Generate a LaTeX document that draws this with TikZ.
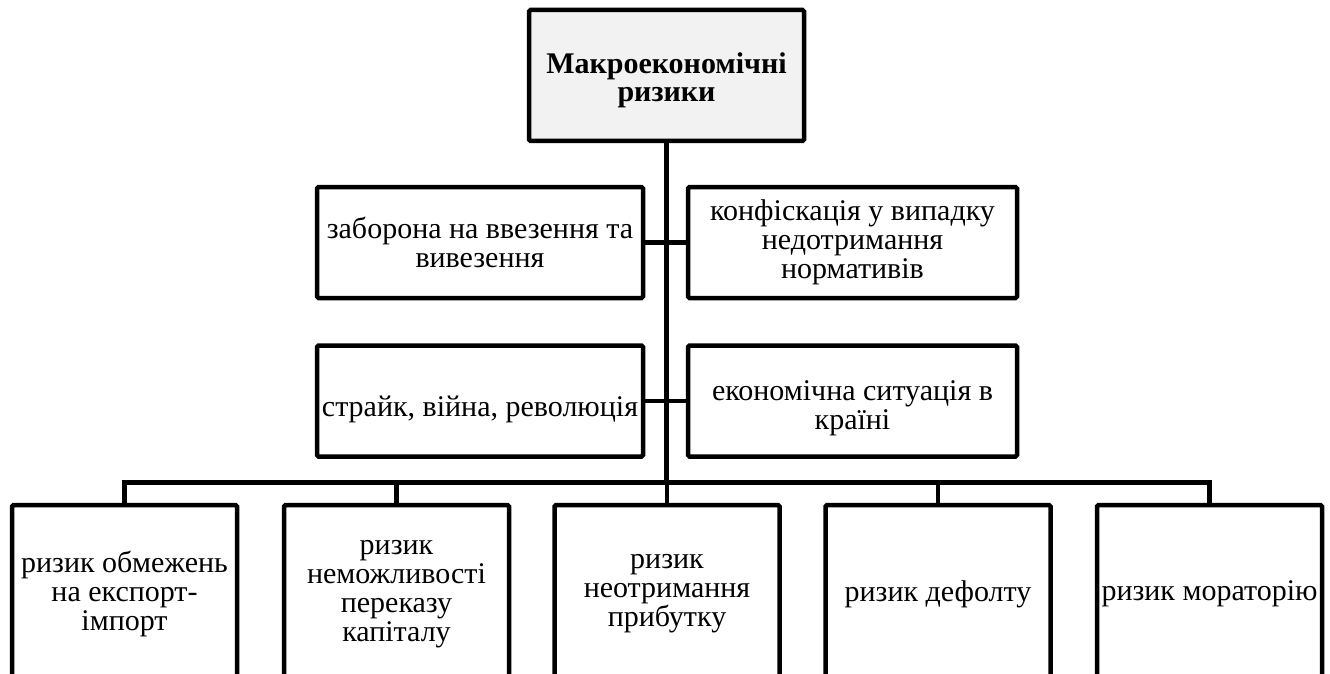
\documentclass[tikz,border=0pt]{standalone}
\usepackage{fontspec}
\setmainfont{Liberation Serif}
\newfontfamily\boxfont{Liberation Serif}
% invisible strut that lowers the text inside a box
\newcommand{\lowerby}[1]{\rule{0pt}{#1}}
\begin{document}
\begin{tikzpicture}[x=1pt,y=-1pt,
  box/.style={draw=black, line width=4.5pt, rounded corners=1.5pt, align=center,
    inner sep=2pt, font=\boxfont\fontsize{30}{29}\selectfont},
  midbox/.style={box, minimum height=111pt},
  lowbox/.style={box, minimum width=225pt, minimum height=178pt},
  link/.style={draw=black, line width=4.5pt}]
\useasboundingbox (0,0) rectangle (1330,674);

% root
\node[box, fill=black!5, minimum width=275pt, minimum height=131pt,
  font=\boxfont\bfseries\fontsize{30}{28}\selectfont] (root) at (666.5,75.5)
  {\lowerby{30pt}Макроекономічні\\ризики};

% middle rows
\node[midbox, minimum width=326pt] (m1) at (480,242.5) {заборона на ввезення та\\вивезення};
\node[midbox, minimum width=329pt] (m2) at (852.5,242.5) {конфіскація у випадку\\недотримання\\нормативів};
\node[midbox, minimum width=326pt] (m3) at (480,401) {\lowerby{37pt}страйк, війна, революція};
\node[midbox, minimum width=329pt] (m4) at (852.5,401) {\lowerby{34pt}економічна ситуація в\\країні};

% bottom row
\node[lowbox] (b1) at (124.5,594) {ризик обмежень\\на експорт-\\імпорт};
\node[lowbox] (b2) at (396.5,594) {ризик\\неможливості\\переказу\\капіталу};
\node[lowbox] (b3) at (667,594) {ризик\\неотримання\\прибутку};
\node[lowbox] (b4) at (938,594) {ризик дефолту};
\node[lowbox] (b5) at (1209.5,594) {ризик мораторію};

% connectors
\coordinate (bus) at (666.5,482.5);
\draw[link] (root.south) -- (bus);
\draw[link] (m1.east) -- (m2.west);
\draw[link] (m3.east) -- (m4.west);
\draw[link, line cap=rect] (b1.north |- bus) -- (b5.north |- bus);
\foreach \b in {b1,b2,b3,b4,b5}
  \draw[link] (\b.north |- bus) -- (\b.north);
\end{tikzpicture}
\end{document}
